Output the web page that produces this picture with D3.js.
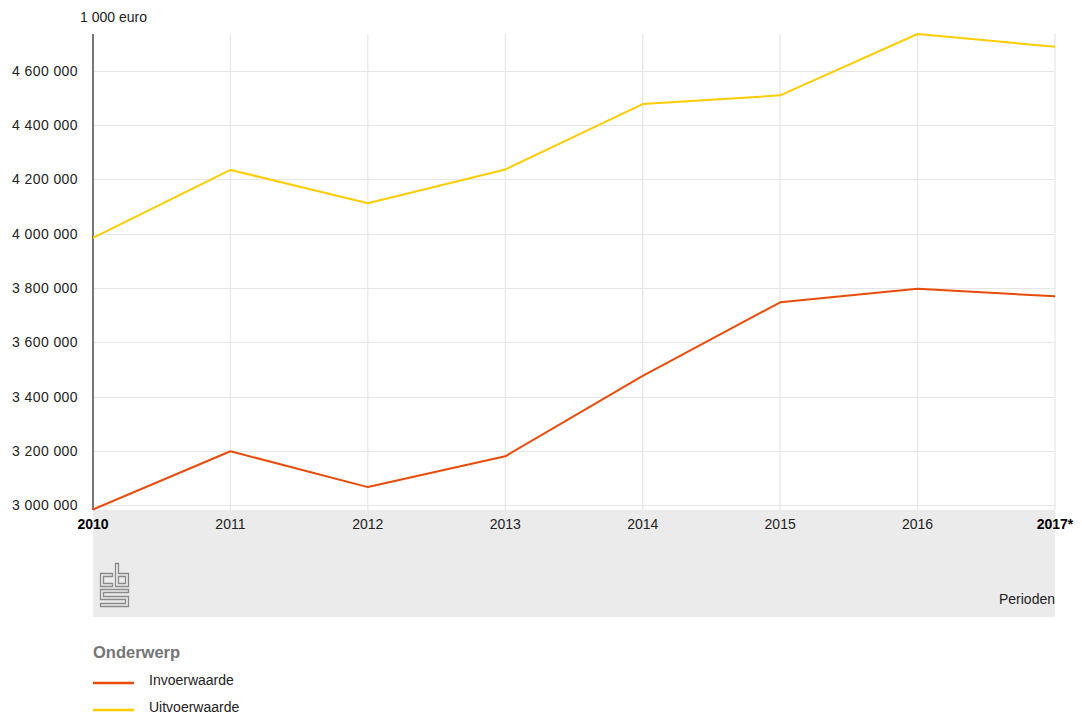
<!DOCTYPE html>
<html>
<head>
<meta charset="utf-8">
<script src="https://cdn.jsdelivr.net/npm/d3@7"></script>
<style>
  html, body { margin: 0; padding: 0; background: #fff; }
  svg { display: block; font-family: "Liberation Sans", Arial, sans-serif; }
</style>
</head>
<body>
<svg id="chart" width="1082" height="715"></svg>
<script>
const years = ["2010", "2011", "2012", "2013", "2014", "2015", "2016", "2017"];
const yearLabels = ["2010", "2011", "2012", "2013", "2014", "2015", "2016", "2017*"];
const invoerwaarde = [2984000, 3198500, 3066500, 3180000, 3476000, 3747000, 3797000, 3769000];
const uitvoerwaarde = [3984000, 4234500, 4111500, 4236000, 4477000, 4509000, 4735000, 4688000];
const yTicks = [3000000, 3200000, 3400000, 3600000, 3800000, 4000000, 4200000, 4400000, 4600000];
const seriesNames = ["Invoerwaarde", "Uitvoerwaarde"];
const seriesColors = ["#e94c0a", "#ffcc00"];
const unitLabel = "1 000 euro";
const xTitle = "Perioden";
const legendTitle = "Onderwerp";

(function () {
const svg = d3.select("#chart");
const pL = 93, pR = 1055, pT = 34, pB = 509.5;

const allVals = invoerwaarde.concat(uitvoerwaarde);
const x = d3.scalePoint().domain(years).range([pL, pR]);
const y = d3.scaleLinear().domain([d3.min(allVals), d3.max(allVals)]).range([pB, pT]);

const fmt = v => d3.format(",")(v).replace(/,/g, " ");

// gray band under plot
svg.append("rect").attr("x", pL).attr("y", 510).attr("width", pR - pL).attr("height", 107).attr("fill", "#ebebeb");

// vertical gridlines
svg.append("g").selectAll("line").data(years.slice(1)).join("line")
  .attr("x1", d => x(d)).attr("x2", d => x(d))
  .attr("y1", pT).attr("y2", 510)
  .attr("stroke", "#e6e6e6").attr("stroke-width", 1.2);

// horizontal gridlines
svg.append("g").selectAll("line").data(yTicks).join("line")
  .attr("x1", pL).attr("x2", pR)
  .attr("y1", d => Math.round(y(d)) + 0.5).attr("y2", d => Math.round(y(d)) + 0.5)
  .attr("stroke", "#e6e6e6").attr("stroke-width", 1.2);

// y tick labels
svg.append("g").selectAll("text").data(yTicks).join("text")
  .attr("x", 78).attr("y", d => y(d) + 5)
  .attr("text-anchor", "end")
  .attr("font-size", 14).attr("letter-spacing", 0.4)
  .attr("fill", "#222")
  .text(fmt);

// unit label
svg.append("text").attr("x", 80).attr("y", 22).attr("font-size", 14).attr("fill", "#222").text(unitLabel);

// y axis line
svg.append("line").attr("x1", pL).attr("x2", pL).attr("y1", pT).attr("y2", 510)
  .attr("stroke", "#777").attr("stroke-width", 2);

// x labels
svg.append("g").selectAll("text").data(years).join("text")
  .attr("x", d => x(d)).attr("y", 529)
  .attr("text-anchor", "middle")
  .attr("font-size", 14)
  .attr("font-weight", (d, i) => (i === 0 || i === years.length - 1) ? "bold" : "normal")
  .attr("fill", (d, i) => (i === 0 || i === years.length - 1) ? "#000" : "#222")
  .text((d, i) => yearLabels[i]);

// x title
svg.append("text").attr("x", pR).attr("y", 604).attr("text-anchor", "end")
  .attr("font-size", 14).attr("fill", "#222").text(xTitle);

// CBS logo
const logo = svg.append("g").attr("transform", "translate(100.5,563.5)")
  .attr("fill", "none").attr("stroke", "#8a8a8a").attr("stroke-width", 1.3);
logo.append("path").attr("d", "M12,10 H0 V23 H12 V20 H3 V13 H12 Z");
logo.append("path").attr("fill-rule", "evenodd").attr("d", "M15,0 H18 V10 H28 V23 H15 Z M18,13 H25 V20 H18 Z");
logo.append("path").attr("d", "M0,26 H28 V29 H3 V33 H28 V43 H0 V40 H25 V36 H0 Z");

// lines
const seriesData = [invoerwaarde, uitvoerwaarde];
const line = d3.line().x((d, i) => x(years[i])).y(d => y(d));
seriesData.forEach((s, k) => {
  svg.append("path").datum(s).attr("d", line)
    .attr("fill", "none").attr("stroke", seriesColors[k]).attr("stroke-width", 2)
    .attr("stroke-linejoin", "round");
});

// legend
svg.append("text").attr("x", 93).attr("y", 658).attr("font-size", 16.5).attr("font-weight", "bold")
  .attr("fill", "#757575").text(legendTitle);
const lg = svg.append("g").selectAll("g").data(seriesNames).join("g")
  .attr("transform", (d, i) => `translate(93,${683 + i * 27})`);
lg.append("line").attr("x1", 0).attr("x2", 41).attr("y1", 0).attr("y2", 0)
  .attr("stroke", (d, i) => seriesColors[i]).attr("stroke-width", 2.5);
lg.append("text").attr("x", 56).attr("y", 2).attr("font-size", 14).attr("fill", "#222").text(d => d);
})();
</script>
</body>
</html>
